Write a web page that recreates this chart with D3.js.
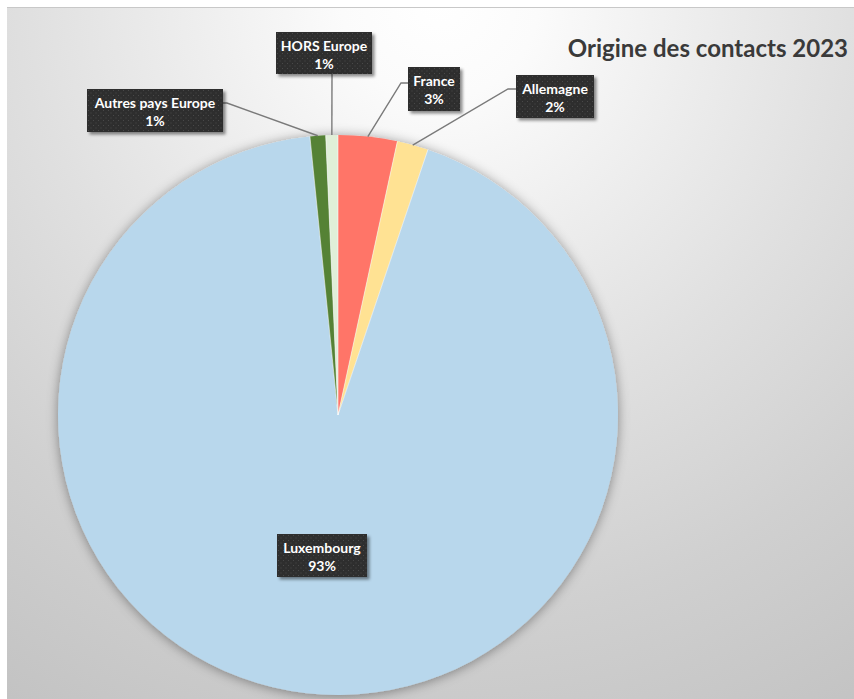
<!DOCTYPE html>
<html>
<head>
<meta charset="utf-8">
<script src="https://cdn.jsdelivr.net/npm/d3@7"></script>
<style>
  html, body { margin: 0; padding: 0; background: #fff; }
  svg { display: block; }
</style>
</head>
<body>
<div id="chart"></div>
<script>
const width = 854,
  height = 699;

// data (share of contacts, %)
const categories = ['France', 'Allemagne', 'Luxembourg', 'Autres pays Europe', 'HORS Europe'];
const values = [3.4, 1.8, 93.2, 0.9, 0.7];
const pctLabels = ['3%', '2%', '93%', '1%', '1%'];
const colors = ['#ff7467', '#ffe293', '#b8d7ec', '#548235', '#e0efd8'];
const title = 'Origine des contacts 2023';

const cx = 338, cy = 415, radius = 280;

// label box layout: [x, y, w, h] and elbow of the leader line
const boxes = {
  'France': { box: [408, 67, 52, 44], elbow: [401, 83], anchor: [408, 83] },
  'Allemagne': { box: [516, 75, 78, 43], elbow: [508, 89], anchor: [516, 89] },
  'Luxembourg': { box: [277, 534, 90, 43] },
  'Autres pays Europe': { box: [87, 89, 136, 43], elbow: [227, 103], anchor: [223, 103] },
  'HORS Europe': { box: [276, 32, 96, 42], elbow: null, anchor: [332, 74] },
};

const svg = d3.select('#chart').append('svg')
  .attr('width', width)
  .attr('height', height);

const defs = svg.append('defs');

const bg = defs.append('radialGradient')
  .attr('id', 'bg')
  .attr('gradientUnits', 'userSpaceOnUse')
  .attr('cx', 440).attr('cy', 0).attr('r', 820);
[[0, '#ffffff'], [0.12, '#fbfbfb'], [0.3, '#eeeeee'], [0.5, '#e0e0e0'], [0.75, '#d0d0d0'], [1, '#c3c3c3']]
  .forEach(s => bg.append('stop').attr('offset', s[0]).attr('stop-color', s[1]));

const dots = defs.append('pattern')
  .attr('id', 'dots')
  .attr('patternUnits', 'userSpaceOnUse')
  .attr('width', 5).attr('height', 5);
dots.append('rect').attr('width', 5).attr('height', 5).attr('fill', '#2e2e2e');
dots.append('rect').attr('x', 1).attr('y', 1).attr('width', 1).attr('height', 1).attr('fill', '#4a4a4a');
dots.append('rect').attr('x', 3.5).attr('y', 3.5).attr('width', 1).attr('height', 1).attr('fill', '#444');

const pieShadow = defs.append('filter').attr('id', 'pieShadow')
  .attr('x', '-10%').attr('y', '-10%').attr('width', '120%').attr('height', '120%');
pieShadow.append('feDropShadow')
  .attr('dx', 0).attr('dy', 1).attr('stdDeviation', 6)
  .attr('flood-color', '#000').attr('flood-opacity', 0.4);

const boxShadow = defs.append('filter').attr('id', 'boxShadow')
  .attr('x', '-20%').attr('y', '-20%').attr('width', '150%').attr('height', '150%');
boxShadow.append('feDropShadow')
  .attr('dx', 2.5).attr('dy', 2.5).attr('stdDeviation', 1.8)
  .attr('flood-color', '#000').attr('flood-opacity', 0.45);

// chart area
svg.append('rect')
  .attr('x', 7).attr('y', 7)
  .attr('width', width - 7).attr('height', height - 7)
  .attr('fill', 'url(#bg)');
svg.append('line')
  .attr('x1', 7).attr('x2', width).attr('y1', 7.5).attr('y2', 7.5)
  .attr('stroke', '#c8c8c8').attr('stroke-width', 1);

const pie = d3.pie().sort(null).value(d => d.value);
const arcs = pie(categories.map((c, i) => ({ name: c, value: values[i], pct: pctLabels[i], color: colors[i] })));

const arc = d3.arc().innerRadius(0).outerRadius(radius);
const edge = d3.arc().innerRadius(radius).outerRadius(radius);

const g = svg.append('g').attr('transform', `translate(${cx},${cy})`);

g.append('g')
  .attr('filter', 'url(#pieShadow)')
  .selectAll('path')
  .data(arcs)
  .enter()
  .append('path')
  .attr('d', arc)
  .attr('fill', d => d.data.color);

// thin separators between slices
g.append('g')
  .selectAll('line')
  .data(arcs)
  .enter()
  .append('line')
  .attr('x1', 0).attr('y1', 0)
  .attr('x2', d => radius * Math.sin(d.startAngle))
  .attr('y2', d => -radius * Math.cos(d.startAngle))
  .attr('stroke', '#ffffff')
  .attr('stroke-opacity', 0.7)
  .attr('stroke-width', 0.8);

// leader lines
arcs.forEach((d) => {
  const b = boxes[d.data.name];
  if (!b.anchor) return;
  const p = edge.centroid(d);
  const pts = [b.anchor];
  if (b.elbow) pts.push(b.elbow);
  pts.push([p[0] + cx, p[1] + cy]);
  svg.append('path')
    .attr('d', d3.line()(pts))
    .attr('fill', 'none')
    .attr('stroke', '#7a7a7a')
    .attr('stroke-width', 1.4);
});

// data labels
const labels = svg.append('g')
  .selectAll('g')
  .data(arcs)
  .enter()
  .append('g')
  .attr('transform', d => `translate(${boxes[d.data.name].box[0]},${boxes[d.data.name].box[1]})`);

labels.append('rect')
  .attr('width', d => boxes[d.data.name].box[2])
  .attr('height', d => boxes[d.data.name].box[3])
  .attr('fill', 'url(#dots)')
  .attr('filter', 'url(#boxShadow)');

labels.append('text')
  .attr('x', d => boxes[d.data.name].box[2] / 2)
  .attr('y', 19)
  .attr('text-anchor', 'middle')
  .style('font-family', 'Lato, "Open Sans", sans-serif')
  .style('font-weight', 'bold')
  .style('font-size', '14px')
  .attr('fill', '#ffffff')
  .text(d => d.data.name);

labels.append('text')
  .attr('x', d => boxes[d.data.name].box[2] / 2)
  .attr('y', 36.5)
  .attr('text-anchor', 'middle')
  .style('font-family', 'Lato, "Open Sans", sans-serif')
  .style('font-weight', 'bold')
  .style('font-size', '14px')
  .attr('fill', '#ffffff')
  .text(d => d.data.pct);

svg.append('text')
  .attr('x', 848)
  .attr('y', 57)
  .attr('text-anchor', 'end')
  .style('font-family', 'Lato, "Open Sans", sans-serif')
  .style('font-weight', 'bold')
  .style('font-size', '24px')
  .attr('fill', '#3a3a3a')
  .text(title);
</script>
</body>
</html>
